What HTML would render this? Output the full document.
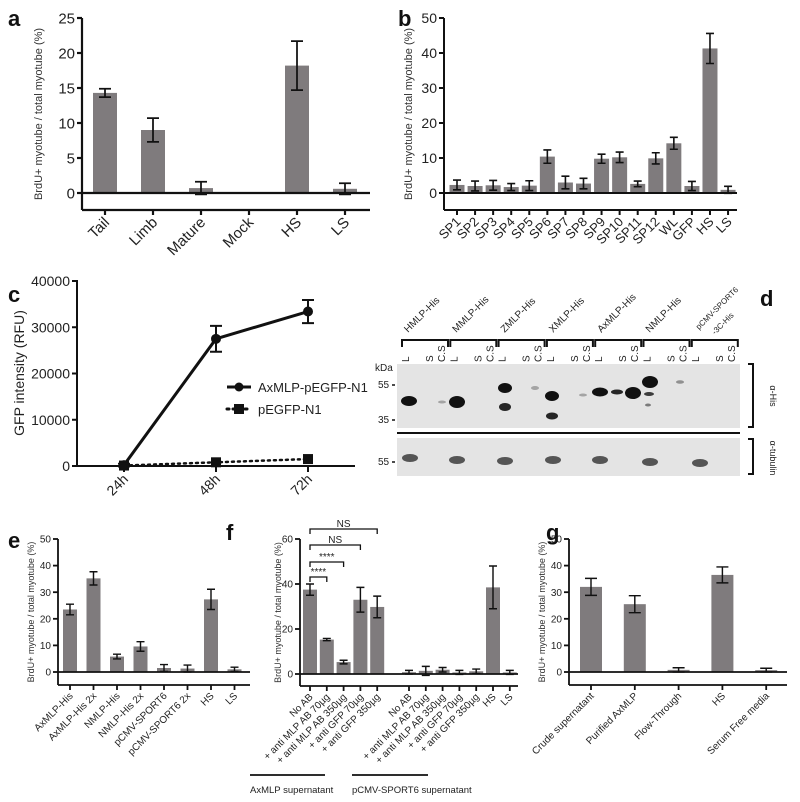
<!DOCTYPE html>
<html><head><meta charset="utf-8">
<style>
html,body{margin:0;padding:0;background:#fff;}
svg{display:block;font-family:"Liberation Sans",sans-serif;}
</style></head>
<body>
<svg id="fig" width="800" height="802" viewBox="0 0 800 802" xmlns="http://www.w3.org/2000/svg">
<g id="blot"></g>
</svg>
<script>
// Panel a
const aCats = ["Tail","Limb","Mature","Mock","HS","LS"];
const aVals = [14.3,9.0,0.7,0,18.2,0.6];
const aErrs = [0.6,1.7,0.9,0,3.5,0.8];
const aTicks = [0,5,10,15,20,25];
// Panel b
const bCats = ["SP1","SP2","SP3","SP4","SP5","SP6","SP7","SP8","SP9","SP10","SP11","SP12","WL","GFP","HS","LS"];
const bVals = [2.3,2.0,2.2,1.7,2.1,10.4,3.0,2.7,9.8,10.2,2.6,9.9,14.2,2.0,41.3,0.9];
const bErrs = [1.4,1.4,1.4,1.0,1.4,1.9,1.8,1.5,1.3,1.5,0.8,1.6,1.7,1.3,4.3,1.0];
const bTicks = [0,10,20,30,40,50];
// Panel c
const cCats = ["24h","48h","72h"];
const cAx = [200,27500,33400];
const cAxErr = [300,2800,2500];
const cPe = [100,800,1500];
const cTicks = [0,10000,20000,30000,40000];
// Panel e
const eCats = ["AxMLP-His","AxMLP-His 2x","NMLP-His","NMLP-His 2x","pCMV-SPORT6","pCMV-SPORT6 2x","HS","LS"];
const eVals = [23.5,35.2,5.8,9.6,1.5,1.3,27.3,1.0];
const eErrs = [2.0,2.5,0.9,1.8,1.3,1.3,3.8,0.8];
const eTicks = [0,10,20,30,40,50];
// Panel f
const fCats = ["No AB","+ anti MLP AB 70µg","+ anti MLP AB 350µg","+ anti GFP 70µg","+ anti GFP 350µg","No AB","+ anti MLP AB 70µg","+ anti MLP AB 350µg","+ anti GFP 70µg","+ anti GFP 350µg","HS","LS"];
const fVals = [37.5,15.3,5.3,33.0,29.8,0.8,1.4,1.9,0.7,1.2,38.5,0.7];
const fErrs = [2.5,0.5,0.8,5.5,4.8,0.8,2.0,1.0,0.9,1.0,9.5,0.9];
const fTicks = [0,20,40,60];
// Panel g
const gCats = ["Crude supernatant","Purified AxMLP","Flow-Through","HS","Serum Free media"];
const gVals = [32.0,25.5,0.8,36.5,0.7];
const gErrs = [3.2,3.2,0.8,3.0,0.7];
const gTicks = [0,10,20,30,40,50];

const NS = "http://www.w3.org/2000/svg";
const svg = document.getElementById('fig');
function el(tag, attrs, parent, text){
  const e = document.createElementNS(NS, tag);
  for (const k in attrs) e.setAttribute(k, attrs[k]);
  if (text !== undefined) e.textContent = text;
  (parent||svg).appendChild(e);
  return e;
}
function label(txt,x,y){
  const t = el('text',{x:x,y:y,'font-size':22,'font-weight':'bold',fill:'#111'},svg,txt);
  
  
}

function barChart(o){
  const g = el('g',{});
  
  
  const y = v => o.y0 - (v/o.ymax)*(o.y0-o.ytop);
  const x = i => o.x0 + i*o.step + ((o.gapAt!==undefined && i>=o.gapAt) ? o.gap : 0);
  const yl = el('line',{x1:o.ax,y1:o.ytop,x2:o.ax,y2:o.bottom,stroke:'#111','stroke-width':o.lw},g);
   
  const bl = el('line',{x1:o.ax,y1:o.bottom,x2:o.xend,y2:o.bottom,stroke:'#111','stroke-width':o.lw},g);
   
  o.ticks.forEach(t=>{
    el('line',{x1:o.ax-5,y1:y(t),x2:o.ax,y2:y(t),stroke:'#111','stroke-width':o.lw},g);
    const tl = el('text',{x:o.ax-7,y:y(t)+o.tfs*0.36,'font-size':o.tfs,'text-anchor':'end',fill:'#222'},g,t);
     
  });
  const ttl = el('text',{transform:`translate(${o.ttx},${(o.ytop+o.bottom)/2}) rotate(-90)`,'font-size':o.ttfs,'text-anchor':'middle',fill:'#333'},g,'BrdU+ myotube / total myotube (%)');
   
  o.vals.forEach((v,i)=>{
    const cx = x(i);
    const r = el('rect',{x:cx-o.bw/2,y:y(v),width:o.bw,height:Math.max(0,o.y0-y(v)),fill:'#7f7b7d'},g);
     
    if (o.errs[i]>0){
      const e=o.errs[i], c=o.cap;
      el('path',{d:`M${cx},${y(v-e)}V${y(v+e)}M${cx-c},${y(v-e)}H${cx+c}M${cx-c},${y(v+e)}H${cx+c}`,stroke:'#111','stroke-width':o.lw*0.8,fill:'none'},g);
    }
    el('line',{x1:cx,y1:o.bottom,x2:cx,y2:o.bottom+5,stroke:'#111','stroke-width':o.lw},g);
    const lt = el('text',{transform:`translate(${cx+o.lfs*0.35},${o.bottom+8+o.lfs*0.35}) rotate(-45)`,'font-size':o.lfs,'text-anchor':'end',fill:'#222'},g,o.cats[i]);
     
  });
  const zl = el('line',{x1:o.ax,y1:o.y0,x2:o.xend,y2:o.y0,stroke:'#111','stroke-width':o.lw},g);
   
  return {y:y,x:x,g:g};
}

// a
label('a',8,26);
barChart({name:'chart-a',cats:aCats,vals:aVals,errs:aErrs,ticks:aTicks,ymax:25,ax:82,ytop:18,y0:193,bottom:210,xend:370,x0:105,step:48,bw:24,cap:6,lw:2.2,tfs:15,lfs:15,ttfs:11,ttx:42});
// b
label('b',398,26);
barChart({name:'chart-b',cats:bCats,vals:bVals,errs:bErrs,ticks:bTicks,ymax:50,ax:444,ytop:18,y0:193,bottom:210,xend:737,x0:457,step:18.07,bw:15,cap:4,lw:2,tfs:14,lfs:13,ttfs:11,ttx:412});
// e
label('e',8,548);
barChart({name:'chart-e',cats:eCats,vals:eVals,errs:eErrs,ticks:eTicks,ymax:50,ax:58,ytop:539,y0:672,bottom:685,xend:250,x0:70,step:23.5,bw:14,cap:4,lw:1.8,tfs:10,lfs:10,ttfs:9,ttx:34});
// f
label('f',226,540);
const F = barChart({name:'chart-f',cats:fCats,vals:fVals,errs:fErrs,ticks:fTicks,ymax:60,ax:300,ytop:539,y0:674,bottom:686,xend:518,x0:310,step:16.8,gapAt:5,gap:15,bw:14,cap:4,lw:1.8,tfs:10,lfs:10,ttfs:9,ttx:281});
(function(){
  const sig = [[1,'****',577],[2,'****',562],[3,'NS',545],[4,'NS',529]];
  sig.forEach(s=>{
    const x2 = F.x(s[0]);
    el('path',{d:`M310,${s[2]+5}V${s[2]}H${x2}V${s[2]+5}`,stroke:'#111','stroke-width':1.3,fill:'none'},F.g);
    el('text',{x:(310+x2)/2,y:s[2]-2,'font-size':10,'text-anchor':'middle',fill:'#222'},F.g,s[1]);
  });
  el('line',{x1:250,y1:775,x2:325,y2:775,stroke:'#111','stroke-width':1.8},F.g);
  el('line',{x1:352,y1:775,x2:428,y2:775,stroke:'#111','stroke-width':1.8},F.g);
  el('text',{x:250,y:793,'font-size':9.5,fill:'#222'},F.g,'AxMLP supernatant');
  el('text',{x:352,y:793,'font-size':9.5,fill:'#222'},F.g,'pCMV-SPORT6 supernatant');
})();
// g
label('g',546,540);
barChart({name:'chart-g',cats:gCats,vals:gVals,errs:gErrs,ticks:gTicks,ymax:50,ax:569,ytop:539,y0:672,bottom:685,xend:787,x0:591,step:43.8,bw:22,cap:6,lw:1.8,tfs:10,lfs:10,ttfs:9,ttx:545});

// c line chart
label('c',8,302);
(function(){
  const g = el('g',{});
   
  const y = v => 466 - v/40000*185;
  const x = i => 124 + i*92;
  el('line',{x1:77,y1:280,x2:77,y2:466,stroke:'#111','stroke-width':2},g);
  el('line',{x1:77,y1:466,x2:355,y2:466,stroke:'#111','stroke-width':2},g);
  cTicks.forEach(t=>{
    el('line',{x1:72,y1:y(t),x2:77,y2:y(t),stroke:'#111','stroke-width':2},g);
    el('text',{x:70,y:y(t)+5,'font-size':14,'text-anchor':'end',fill:'#222'},g,t);
  });
  el('text',{transform:'translate(24,373) rotate(-90)','font-size':14,'text-anchor':'middle',fill:'#222'},g,'GFP intensity (RFU)');
  cCats.forEach((c,i)=>{
    el('line',{x1:x(i),y1:466,x2:x(i),y2:472,stroke:'#111','stroke-width':2},g);
    el('text',{transform:`translate(${x(i)+5},${480}) rotate(-45)`,'font-size':14,'text-anchor':'end',fill:'#222'},g,c);
  });
  const dd = cPe.map((v,i)=>(i?'L':'M')+x(i)+','+y(v)).join('');
  el('path',{d:dd,stroke:'#111','stroke-width':2.5,'stroke-dasharray':'2,4','stroke-linecap':'round',fill:'none'},g);
  cPe.forEach((v,i)=>el('rect',{x:x(i)-5,y:y(v)-5,width:10,height:10,fill:'#111'},g));
  const d = cAx.map((v,i)=>(i?'L':'M')+x(i)+','+y(v)).join('');
  const ln = el('path',{d:d,stroke:'#111','stroke-width':3,fill:'none'},g);
   
  cAx.forEach((v,i)=>{
    el('circle',{cx:x(i),cy:y(v),r:5,fill:'#111'},g);
    const e=cAxErr[i];
    el('path',{d:`M${x(i)},${y(v-e)}V${y(v+e)}M${x(i)-6},${y(v-e)}H${x(i)+6}M${x(i)-6},${y(v+e)}H${x(i)+6}`,stroke:'#111','stroke-width':2,fill:'none'},g);
  });
  el('line',{x1:227,y1:387,x2:251,y2:387,stroke:'#111','stroke-width':3},g);
  el('circle',{cx:239,cy:387,r:4.5,fill:'#111'},g);
  el('text',{x:258,y:392,'font-size':13,fill:'#222'},g,'AxMLP-pEGFP-N1');
  el('line',{x1:227,y1:409,x2:251,y2:409,stroke:'#111','stroke-width':3,'stroke-dasharray':'2,4','stroke-linecap':'round'},g);
  el('rect',{x:234,y:404,width:10,height:10,fill:'#111'},g);
  el('text',{x:258,y:414,'font-size':13,fill:'#222'},g,'pEGFP-N1');
})();

// d blot
label('d',760,306);
(function(){
  const g = document.getElementById('blot');
  el('rect',{x:397,y:364,width:343,height:64,fill:'#e4e4e4'},g);
  el('rect',{x:397,y:438,width:343,height:38,fill:'#e4e4e4'},g);
  el('line',{x1:397,y1:433,x2:740,y2:433,stroke:'#111','stroke-width':2},g);
  const groups = ["HMLP-His","MMLP-His","ZMLP-His","XMLP-His","AxMLP-His","NMLP-His"];
  const lanes = ["L","S","C.S"];
  for(let k=0;k<7;k++){
    const gx = 402 + k*48.3;
    el('path',{d:`M${gx},${347}V${340}H${gx+46}V${347}`,stroke:'#111','stroke-width':2,fill:'none'},g);
    lanes.forEach((ln,j)=>{
      const lx = gx+7+[0,24,36][j];
      el('text',{transform:`translate(${lx},${362}) rotate(-90)`,'font-size':10,fill:'#222'},g,ln);
    });
    if(k<6) el('text',{transform:`translate(${gx+6},${333}) rotate(-45)`,'font-size':10,fill:'#222'},g,groups[k]);
  }
  el('text',{transform:'translate(699,330) rotate(-45)','font-size':8,fill:'#222'},g,'pCMV-SPORT6');
  el('text',{transform:'translate(715,335) rotate(-45)','font-size':8,fill:'#222'},g,'-3C-His');
  const bands = [[409,401,8,5,1],[442,402,4,1.5,0.3],[457,402,8,6,1],[505,388,7,5,1],[505,407,6,4,0.9],[535,388,4,2,0.3],[552,396,7,5,1],[552,416,6,3.5,0.9],[583,395,4,1.5,0.3],[600,392,8,4.5,1],[617,392,6,2.5,0.9],[633,393,8,6,1],[650,382,8,6,1],[649,394,5,2,0.8],[648,405,3,1.5,0.5],[680,382,4,1.8,0.4]];
  bands.forEach(b=>el('ellipse',{cx:b[0],cy:b[1],rx:b[2],ry:b[3],fill:'#111','fill-opacity':b[4]},g));
  [[410,458],[457,460],[505,461],[553,460],[600,460],[650,462],[700,463]].forEach(b=>el('ellipse',{cx:b[0],cy:b[1],rx:8,ry:4,fill:'#555'},g));
  el('text',{x:375,y:371,'font-size':10,fill:'#222'},g,'kDa');
  [[55,385],[35,420],[55,462]].forEach(t=>{
    el('text',{x:378,y:t[1]+3,'font-size':10,fill:'#222'},g,t[0]);
    el('line',{x1:392,y1:t[1],x2:395,y2:t[1],stroke:'#111','stroke-width':1.5},g);
  });
  el('path',{d:'M748,364H753V427H748',stroke:'#111','stroke-width':2,fill:'none'},g);
  el('path',{d:'M748,439H753V474H748',stroke:'#111','stroke-width':2,fill:'none'},g);
  el('text',{transform:'translate(770,396) rotate(90)','font-size':9,'text-anchor':'middle',fill:'#222'},g,'α-His');
  el('text',{transform:'translate(770,458) rotate(90)','font-size':9,'text-anchor':'middle',fill:'#222'},g,'α-tubulin');
})();
</script>
</body></html>
